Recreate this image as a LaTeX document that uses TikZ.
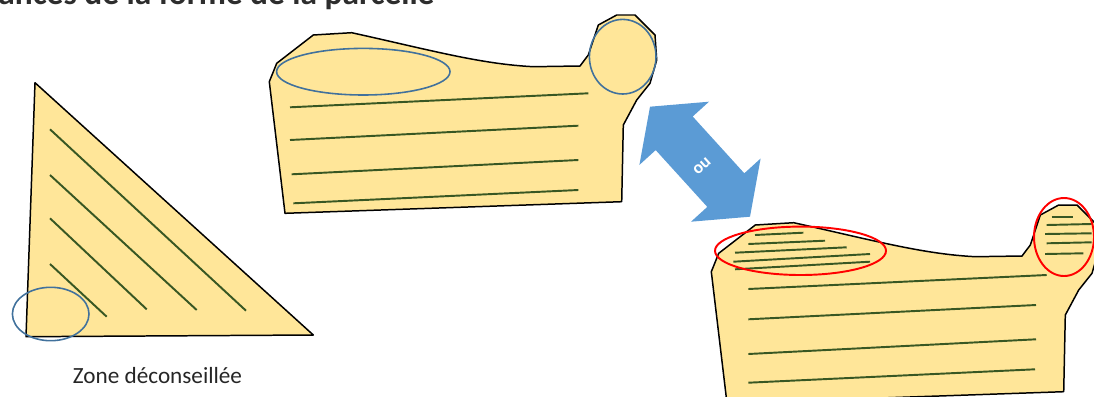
\documentclass[tikz,border=0pt]{standalone}
\usepackage{fontspec}
\setmainfont{Carlito}
\definecolor{parcelyellow}{RGB}{255,230,153}
\definecolor{rowgreen}{RGB}{56,87,35}
\definecolor{zoneblue}{RGB}{65,113,156}
\definecolor{arrowblue}{RGB}{91,155,213}
\definecolor{titlegrey}{RGB}{45,45,45}
\tikzset{
  parcel/.style={fill=parcelyellow, draw=black, line width=0.85pt, line join=round},
  row/.style={draw=rowgreen, line width=1.1pt},
  bluezone/.style={draw=zoneblue, line width=0.9pt},
  redzone/.style={draw=red, line width=1.1pt},
}
\begin{document}
\begin{tikzpicture}[x=0.02cm, y=-0.02cm]
\useasboundingbox (0,0) rectangle (1094,396);
\clip (0,0) rectangle (1094,396);

% title (cut off at the top)
\node[anchor=base west, inner sep=0, text=titlegrey, font=\bfseries\fontsize{19}{21}\selectfont] (title) at (-2,4.5) {ances de la forme de la parcelle};

% triangle parcel
\draw[parcel] (35,82.7) -- (26,336.7) -- (313.3,335) -- cycle;
\draw[row] (50,129.3) -- (246,310.7);
\draw[row] (50,175) -- (196.7,310);
\draw[row] (50,218.3) -- (146.7,309.3);
\draw[row] (50,264) -- (106.7,316.7);
\draw[bluezone] (50.7,314) ellipse [x radius=38.3, y radius=26.7];
\node[font=\fontsize{13.2}{15}\selectfont, text=black!85] (zone) at (157.5,376) {Zone déconseillée};

% upper parcel
\draw[parcel] (269.3,81.7) -- (276.7,63.3) -- (313.3,35) -- (351.7,32.7)
  .. controls (430,50) and (480,64) .. (533.3,66.7) -- (580,66) -- (588.3,55)
  -- (598.3,25) -- (616.7,15) -- (635,15) -- (655,35) -- (656.7,60) -- (650,83.3)
  -- (636.7,100) -- (623.3,125) -- (621.7,201.7) -- (285,213.3) -- cycle;
\draw[row] (290,107.3) -- (588.3,93.3);
\draw[row] (290,140) -- (578.3,125.7);
\draw[row] (291.7,174.3) -- (578.3,160);
\draw[row] (293.3,203.3) -- (578.3,190);
\draw[bluezone] (363.3,71.7) ellipse [x radius=86.7, y radius=23.3];
\draw[bluezone] (622.7,56.7) ellipse [x radius=33.3, y radius=37.3];

% double arrow
\fill[arrowblue] (650,106.7) -- (639.4,164.9) -- (655.7,150.1) -- (707.3,206.9)
  -- (691.0,221.7) -- (750,216.7) -- (760.6,158.5) -- (744.3,173.3)
  -- (692.7,116.5) -- (709.0,101.7) -- cycle;
\node[text=white, rotate=42, font=\bfseries\fontsize{10}{12}\selectfont] (ou) at (702,166) {ou};

% lower parcel
\begin{scope}[shift={(442,190)}]
\draw[parcel] (269.3,81.7) -- (276.7,63.3) -- (313.3,35) -- (351.7,32.7)
  .. controls (430,50) and (480,64) .. (533.3,66.7) -- (580,66) -- (588.3,55)
  -- (598.3,25) -- (616.7,15) -- (635,15) -- (655,35) -- (656.7,60) -- (650,83.3)
  -- (636.7,100) -- (623.3,125) -- (621.7,201.7) -- (285,213.3) -- cycle;
\end{scope}
\draw[row] (748.3,289) -- (1046.7,275);
\draw[row] (748.3,319.3) -- (1036,305);
\draw[row] (748.3,354) -- (1036,339.3);
\draw[row] (748.3,382.7) -- (1035,369.3);
% rows in the red zones
\draw[row] (755,235) -- (803.3,232.7);
\draw[row] (748.3,244) -- (825,240.7);
\draw[row] (735,252.7) -- (846.7,247.3);
\draw[row] (733.3,261.7) -- (870,254);
\draw[row] (735,269.3) -- (870,261.7);
\draw[row] (1051.7,217.3) -- (1073.3,217.3);
\draw[row] (1046.7,225) -- (1091.7,224);
\draw[row] (1045,234) -- (1091.7,233.3);
\draw[row] (1046.7,243.3) -- (1091.7,242.3);
\draw[row] (1045,254) -- (1083.3,253.3);
\draw[redzone] (800.5,250.8) ellipse [x radius=85.5, y radius=24.2];
\draw[redzone] (1064,237) ellipse [x radius=30, y radius=39];
\end{tikzpicture}
\end{document}
